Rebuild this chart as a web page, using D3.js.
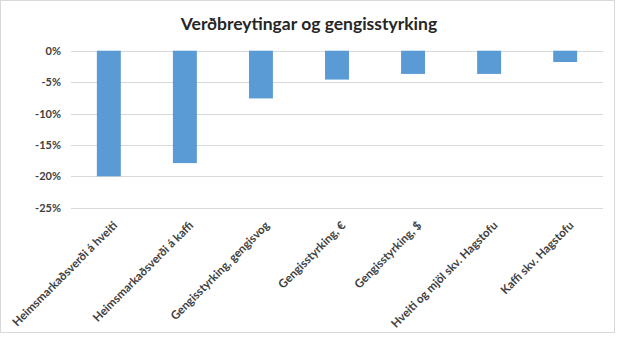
<!DOCTYPE html>
<html><head><meta charset="utf-8">
<script src="https://cdn.jsdelivr.net/npm/d3@7"></script>
<style>body{margin:0;background:#fff}svg{display:block}</style>
</head><body>
<script>
const categories = ["Heimsmarkaðsverði á hveiti","Heimsmarkaðsverði á kaffi","Gengisstyrking, gengisvog","Gengisstyrking, €","Gengisstyrking, $","Hveiti og mjöl skv. Hagstofu","Kaffi skv. Hagstofu"];
const values = [-20, -17.9, -7.6, -4.6, -3.7, -3.7, -1.8];
const yTicks = [0, -5, -10, -15, -20, -25];
const title = "Verðbreytingar og gengisstyrking";

const W = 620, H = 337;
const svg = d3.select("body").append("svg").attr("width", W).attr("height", H);
svg.append("rect").attr("x",0.5).attr("y",0.5).attr("width",614).attr("height",332)
  .attr("fill","#fff").attr("stroke","#d9d9d9");

const x = d3.scaleBand().domain(categories).range([71, 603]).paddingInner(0.685).paddingOuter(0.34);
const y = d3.scaleLinear().domain([-25, 0]).range([207.7, 50.7]);

svg.append("g").selectAll("line").data(yTicks).join("line")
  .attr("x1",71).attr("x2",603).attr("y1",d=>Math.round(y(d))+0.5).attr("y2",d=>Math.round(y(d))+0.5)
  .attr("stroke","#d9d9d9").attr("stroke-width",1);

const yAxis = d3.axisLeft(y).tickValues(yTicks).tickSize(0).tickPadding(0).tickFormat(d=>d+"%");
const ga = svg.append("g").attr("transform","translate(61,0)").call(yAxis);
ga.select(".domain").remove();
ga.selectAll("text").attr("font-family","Lato").attr("font-weight","bold").attr("font-size","11px").attr("fill","#404040");

svg.append("g").selectAll("rect").data(values).join("rect")
  .attr("x",(d,i)=>x(categories[i])).attr("width",x.bandwidth())
  .attr("y",y(0)).attr("height",d=>y(d)-y(0)).attr("fill","#5b9bd5");

svg.append("g").selectAll("text").data(categories).join("text")
  .attr("transform",d=>`translate(${x(d)+x.bandwidth()/2+3},${220}) rotate(-45)`)
  .attr("text-anchor","end").attr("dy","0.75em")
  .attr("font-family","Lato").attr("font-weight","bold").attr("font-size","11.6px").attr("fill","#404040")
  .text(d=>d);

svg.append("text").attr("x",309).attr("y",30).attr("text-anchor","middle")
  .attr("font-family","Lato").attr("font-weight","bold").attr("font-size","17.5px").attr("fill","#262626")
  .text(title);
</script>
</body></html>
